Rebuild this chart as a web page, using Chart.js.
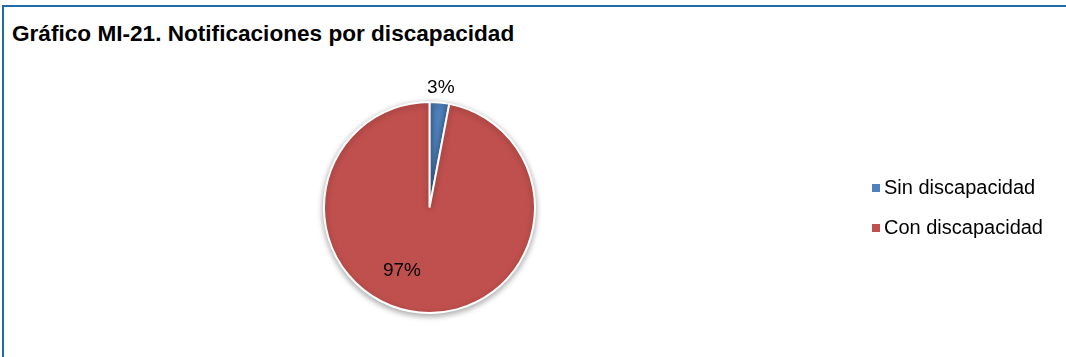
<!DOCTYPE html>
<html>
<head>
<meta charset="utf-8">
<script src="https://cdn.jsdelivr.net/npm/chart.js@4/dist/chart.umd.min.js"></script>
<style>
  html, body { margin:0; padding:0; background:#fff; }
  #wrap { position:relative; width:1066px; height:357px; overflow:hidden; background:#fff; }
  #frame { position:absolute; left:2px; top:5px; width:1080px; height:400px; border-left:2px solid #1f6aa8; border-top:2px solid #1f6aa8; box-sizing:border-box; }
  #title { position:absolute; left:12px; top:21px; line-height:26px; font-family:"Liberation Sans", Arial, sans-serif; font-weight:bold; font-size:22.6px; color:#000; white-space:nowrap; }
  canvas { position:absolute; left:0; top:0; }
  .leg { position:absolute; left:872px; line-height:24px; font-family:"Liberation Sans", Arial, sans-serif; font-size:20px; color:#000; white-space:nowrap; }
  .leg span.sw { display:inline-block; width:8px; height:8px; margin-right:4px; vertical-align:2px; }
</style>
</head>
<body>
<div id="wrap">
  <div id="frame"></div>
  <div id="title">Gráfico MI-21. Notificaciones por discapacidad</div>
  <canvas id="c" width="1066" height="357"></canvas>
  <div id="legend"></div>
</div>
<script>
const categories = ["Sin discapacidad", "Con discapacidad"];
const values = [3, 97];
const valueLabels = ["3%", "97%"];
const colors = ["#4f81bd", "#c0504d"];

// legend (HTML text)
const legendTops = [175, 215];
const legendEl = document.getElementById('legend');
categories.forEach((cat, i) => {
  const d = document.createElement('div');
  d.className = 'leg';
  d.style.top = legendTops[i] + 'px';
  d.innerHTML = '<span class="sw" style="background:' + colors[i] + '"></span>' + cat;
  legendEl.appendChild(d);
});

const labelPlugin = {
  id: 'sliceLabels',
  beforeDatasetDraw(chart) {
    const ctx = chart.ctx;
    ctx.save();
    ctx.shadowColor = 'rgba(0,0,0,0.35)';
    ctx.shadowBlur = 6;
    ctx.shadowOffsetX = 0;
    ctx.shadowOffsetY = 2;
  },
  afterDatasetDraw(chart) {
    chart.ctx.restore();
  },
  afterDraw(chart, args, opts) {
    const ctx = chart.ctx;
    const meta = chart.getDatasetMeta(0);
    ctx.save();
    ctx.fillStyle = '#000';
    ctx.font = '19px "Liberation Sans", Arial, sans-serif';
    ctx.textAlign = 'center';
    ctx.textBaseline = 'middle';
    meta.data.forEach((arc, i) => {
      const p = arc.getProps(['x','y','startAngle','endAngle','outerRadius'], true);
      const mid = (p.startAngle + p.endAngle) / 2 + opts.angleShift[i];
      const r = opts.radii[i] < 0 ? p.outerRadius - opts.radii[i] : p.outerRadius * opts.radii[i];
      const x = p.x + Math.cos(mid) * r;
      const y = p.y + Math.sin(mid) * r;
      ctx.fillText(valueLabels[i], x, y);
    });
    ctx.restore();
  }
};

new Chart(document.getElementById('c'), {
  type: 'pie',
  data: {
    labels: categories,
    datasets: [{
      data: values,
      backgroundColor: colors,
      borderColor: '#ffffff',
      borderWidth: 2
    }]
  },
  options: {
    responsive: false,
    animation: false,
    layout: { padding: { top: 101, bottom: 43, left: 323, right: 530 } },
    plugins: {
      legend: { display: false },
      tooltip: { enabled: false },
      sliceLabels: { radii: [-15, 0.65], angleShift: [0, 0.32] }
    }
  },
  plugins: [labelPlugin]
});
</script>
</body>
</html>
